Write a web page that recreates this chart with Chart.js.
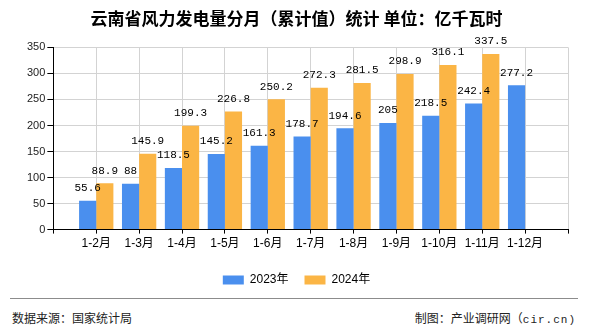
<!DOCTYPE html>
<html>
<head>
<meta charset="utf-8">
<script src="https://cdn.jsdelivr.net/npm/chart.js@4/dist/chart.umd.min.js"></script>
<style>
  html, body { margin: 0; padding: 0; background: #fff; }
  #wrap { position: relative; width: 590px; height: 330px; overflow: hidden; }
  #box { position: absolute; left: 0; top: 0; width: 590px; height: 296px; }
  #line { position: absolute; left: 10px; top: 298px; width: 568px; height: 0; border-top: 1px solid #8c8c8c; }
  .foot { position: absolute; top: 310px; font-family: "Noto Sans CJK SC", sans-serif; font-size: 12px; color: #222; line-height: 16px; white-space: nowrap; }
  .mono { font-family: "Liberation Mono", "DejaVu Sans Mono", monospace; font-size: 11px; letter-spacing: 1px; }
  #src { left: 12px; }
  #mk { right: 14px; }
</style>
</head>
<body>
<div id="wrap">
  <div id="box"><canvas id="c"></canvas></div>
  <div id="line"></div>
  <div class="foot" id="src">数据来源：国家统计局</div>
  <div class="foot" id="mk">制图：产业调研网（<span class="mono">cir.cn)</span></div>
</div>
<script>
const categories = ['1-2月', '1-3月', '1-4月', '1-5月', '1-6月', '1-7月', '1-8月', '1-9月', '1-10月', '1-11月', '1-12月'];
const series2023 = [55.6, 88, 118.5, 145.2, 161.3, 178.7, 194.6, 205, 218.5, 242.4, 277.2];
const series2024 = [88.9, 145.9, 199.3, 226.8, 250.2, 272.3, 281.5, 298.9, 316.1, 337.5, null];
const yTicks = [0, 50, 100, 150, 200, 250, 300, 350];
const seriesNames = ['2023年', '2024年'];
const titleText = '云南省风力发电量分月（累计值）统计 单位：亿千瓦时';

// pad with an empty slot at each end so the axis runs one step beyond the first and last month
const labels = [''].concat(categories, ['']);
const pad = arr => [null].concat(arr, [null]);

const valueLabels = {
  id: 'valueLabels',
  afterDatasetsDraw(chart) {
    const ctx = chart.ctx;
    ctx.save();
    ctx.font = '11px "Liberation Mono", "DejaVu Sans Mono", monospace';
    ctx.fillStyle = '#000';
    ctx.textAlign = 'center';
    ctx.textBaseline = 'bottom';
    chart.data.datasets.forEach((ds, i) => {
      const meta = chart.getDatasetMeta(i);
      meta.data.forEach((el, j) => {
        const v = ds.data[j];
        if (v === null || v === undefined) return;
        ctx.fillText(String(v), el.x, el.y - 7);
      });
    });
    ctx.restore();
  }
};

new Chart(document.getElementById('c'), {
  type: 'bar',
  data: {
    labels: labels,
    datasets: [
      { label: seriesNames[0], data: pad(series2023), backgroundColor: '#4a8fee', borderWidth: 0 },
      { label: seriesNames[1], data: pad(series2024), backgroundColor: '#fbb545', borderWidth: 0 }
    ]
  },
  options: {
    responsive: true,
    maintainAspectRatio: false,
    animation: false,
    devicePixelRatio: 1,
    datasets: { bar: { categoryPercentage: 0.8, barPercentage: 1.0 } },
    layout: { padding: { left: 25, right: 22, top: 0, bottom: 0 } },
    plugins: {
      title: {
        display: true,
        text: titleText,
        color: '#000',
        font: { family: '"Noto Sans CJK SC", sans-serif', size: 17, weight: 'bold' },
        padding: { top: 8, bottom: 19 }
      },
      legend: {
        position: 'bottom',
        labels: {
          boxWidth: 21,
          boxHeight: 9,
          padding: 16,
          color: '#000',
          font: { family: '"Liberation Sans", "Noto Sans CJK SC", sans-serif', size: 12 }
        }
      },
      tooltip: { enabled: false }
    },
    scales: {
      x: {
        offset: false,
        afterFit: axis => { axis.height += 4; },
        grid: { offset: false, color: '#d3d3d3', lineWidth: 1, tickColor: '#000', tickLength: 4, drawTicks: true },
        border: { color: '#000', width: 1 },
        ticks: {
          color: '#000',
          autoSkip: false,
          maxRotation: 0,
          padding: 3,
          font: { family: '"Liberation Sans", "Noto Sans CJK SC", sans-serif', size: 12 }
        }
      },
      y: {
        min: 0,
        max: 350,
        afterBuildTicks: axis => { axis.ticks = yTicks.map(v => ({ value: v })); },
        grid: { color: '#d3d3d3', lineWidth: 1, tickColor: '#000', tickLength: 6 },
        border: { color: '#000', width: 1 },
        ticks: {
          color: '#222',
          padding: 2,
          font: { family: '"Liberation Sans", sans-serif', size: 11 }
        }
      }
    }
  },
  plugins: [valueLabels]
});
</script>
</body>
</html>
